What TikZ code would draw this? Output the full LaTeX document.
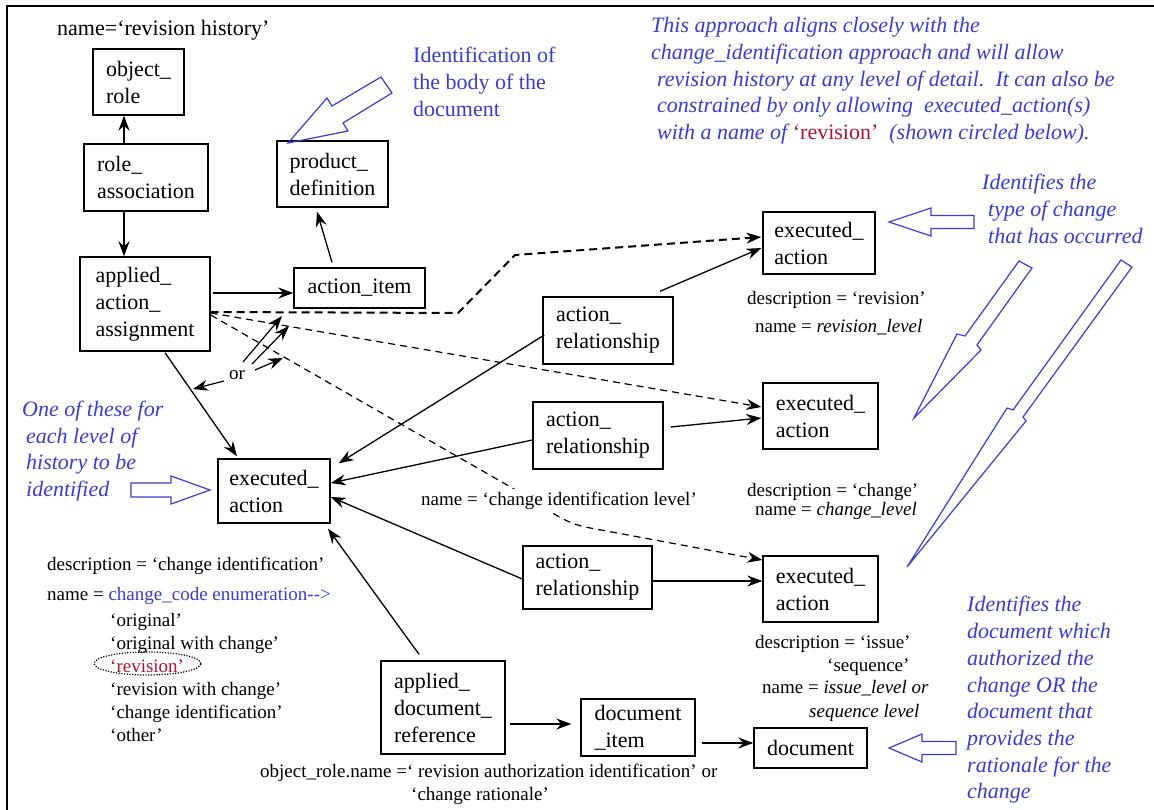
\documentclass[tikz,border=0pt]{standalone}
\usepackage{fontspec}
\setmainfont{Liberation Serif}
\usetikzlibrary{arrows.meta}
\definecolor{noteblue}{RGB}{60,60,210}
\definecolor{revred}{RGB}{175,20,50}
\newcommand{\boxfont}{\fontsize{22}{27}\selectfont}
\newcommand{\notefont}{\fontsize{19}{23}\selectfont}
\newcommand{\bluefont}{\fontsize{22}{26.7}\selectfont}
\begin{document}
\begin{tikzpicture}[x=1pt,y=-1pt,
  ent/.style={draw, line width=1.4pt, inner sep=0pt, align=left, font=\boxfont},
  link/.style={line width=1.3pt, -{Stealth[length=15pt,width=11pt,inset=5pt]}},
  dlink/.style={link, line width=1.2pt, dash pattern=on 7pt off 5pt},
  note/.style={font=\notefont, inner sep=0pt, text height=14pt, text depth=3pt},
  notelist/.style={font=\notefont, inner sep=0pt, align=left},
  bluenote/.style={font=\bluefont, text=noteblue, inner sep=0pt, align=left},
  hollow/.style={draw=noteblue, line width=1.2pt, line join=miter},
]
\useasboundingbox (0,0) rectangle (1154,810);
\fill[white] (0,0) rectangle (1154,810);

% frame
\draw[line width=2.5pt] (7,810) -- (7,6) -- (1154,6);

% entities
\node[ent, minimum width=91pt,  minimum height=66pt] (objrole)    at (138.5,82)   {object\_\\role};
\node[ent, minimum width=124pt, minimum height=67pt] (roleassoc)  at (146,177.5)  {role\_\\association};
\node[ent, minimum width=130pt, minimum height=94pt] (aaa)        at (145,304)    {applied\_\\action\_\\assignment};
\node[ent, minimum width=111pt, minimum height=66pt] (proddef)    at (332.5,174)  {product\_\\definition};
\node[ent, minimum width=131pt, minimum height=40pt, align=center] (actionitem) at (359.5,288) {action\_item};
\node[ent, minimum width=112pt, minimum height=62pt] (ea1)        at (819,243)    {executed\_\\action};
\node[ent, minimum width=130pt, minimum height=67pt] (ar1)        at (608,330.5)  {action\_\\relationship};
\node[ent, minimum width=115pt, minimum height=66pt] (ea2)        at (820.5,416)  {executed\_\\action};
\node[ent, minimum width=130pt, minimum height=67pt] (ar2)        at (598,435.5)  {action\_\\relationship};
\node[ent, minimum width=112pt, minimum height=64pt] (eam)        at (274,491)    {executed\_\\action};
\node[ent, minimum width=129pt, minimum height=63pt] (ar3)        at (587.5,577.5){action\_\\relationship};
\node[ent, minimum width=115pt, minimum height=66pt] (ea3)        at (820.5,589)  {executed\_\\action};
\node[ent, minimum width=124pt, minimum height=93pt] (adr)        at (443,707.5)  {applied\_\\document\_\\reference};
\node[ent, minimum width=114pt, minimum height=57pt] (docitem)    at (638,727.5)  {document\\\_item};
\node[ent, minimum width=113pt, minimum height=40pt, align=center] (document) at (810.5,748) {document};

% solid relationships
\draw[link] ([shift={(-22,0)}]roleassoc.north) -- ([shift={(-14.5,0)}]objrole.south);
\draw[link] ([shift={(-22,0)}]roleassoc.south) -- ([shift={(-21,0)}]aaa.north);
\draw[link] ([shift={(2,-11)}]aaa.east) -- ([shift={(0,5)}]actionitem.west);
\draw[link] ([shift={(-27.5,-5)}]actionitem.north) -- ([shift={(-15.5,4)}]proddef.south);
\draw[link] ([shift={(20,1)}]aaa.south) -- ([shift={(-37,-2)}]eam.north);
\draw[link] ([shift={(52,-5)}]ar1.north) -- ([shift={(-1,5)}]ea1.west);
\draw[link] ([shift={(2,4.5)}]ar1.west) -- ([shift={(8,5)}]eam.north east);
\draw[link] ([shift={(7,-8.5)}]ar2.east) -- ([shift={(-1,2)}]ea2.west);
\draw[link] ([shift={(0,4.5)}]ar2.west) -- ([shift={(0,-8)}]eam.east);
\draw[link] ([shift={(0,1.5)}]ar3.west) -- ([shift={(0,6)}]eam.east);
\draw[link] ([shift={(0,3.5)}]ar3.east) -- ([shift={(0,-8)}]ea3.west);
\draw[link] ([shift={(-24,-6)}]adr.north) -- ([shift={(54,5)}]eam.south);
\draw[link] ([shift={(4,16.5)}]adr.east) -- ([shift={(-9,-3.5)}]docitem.west);
\draw[link] ([shift={(6,15.5)}]docitem.east) -- ([shift={(0,-5)}]document.west);

% dashed assignments to the executed actions
\draw[dlink, line width=2pt, dash pattern=on 8pt off 5pt]
  ([shift={(0,8)}]aaa.east) -- (458,313) -- (515,255) -- ([shift={(-1,-6)}]ea1.west);
\draw[dlink] ([shift={(0,9)}]aaa.east) -- ([shift={(-1,-9)}]ea2.west);
\draw[dlink] ([shift={(0,11)}]aaa.east) -- (528,497)
  .. controls (548,509) and (560,521) .. (585,527) -- ([shift={(0,-29)}]ea3.west);

\node[note, fill=white, inner sep=3pt] (cilevel) at (559,500) {name = ‘change identification level’};

% "or" selector
\node[font=\notefont, inner sep=1pt] (orlabel) at (237,375) {or};
\coordinate (ortipa) at (282,316);
\coordinate (ortipb) at (289,326);
\coordinate (ortipc) at (283,358);
\coordinate (ortipd) at (193,389);
\draw[link, line width=1.2pt] ([shift={(6,-13)}]orlabel.center) -- (ortipa);
\draw[link, line width=1.2pt] ([shift={(15,-11)}]orlabel.center) -- (ortipb);
\draw[link, line width=1.2pt] ([shift={(18,-5)}]orlabel.center) -- (ortipc);
\draw[link, line width=1.2pt] ([shift={(-13,6)}]orlabel.center) -- (ortipd);

% attribute annotations
\node[anchor=west, font=\boxfont, inner sep=0pt] (rolename) at (57,30) {name=‘revision history’};
\node[note, anchor=west] (ea1desc) at (747,299) {description = ‘revision’};
\node[note, anchor=west] (ea1name) at (755,327) {name = \textit{revision\_level}};
\node[note, anchor=west] (ea2desc) at (747,491) {description = ‘change’};
\node[note, anchor=west] (ea2name) at (755,510) {name = \textit{change\_level}};
\node[note, anchor=west] (ea3desc) at (755,643) {description = ‘issue’};
\node[note, anchor=west] (ea3seq)  at (827,666) {‘sequence’};
\node[note, anchor=west] (ea3name) at (762,688) {name = \textit{issue\_level or}};
\node[note, anchor=west] (ea3seql) at (809,712) {\textit{sequence level}};
\node[note, anchor=west] (eamdesc) at (47,565) {description = ‘change identification’};
\node[note, anchor=west] (eamname) at (47,595) {name = \textcolor{noteblue}{change\_code enumeration{-}{-}>}};
\node[notelist, anchor=west] (codelist) at (110,677) {‘original’\\‘original with change’\\\textcolor{revred}{‘revision’}\\‘revision with change’\\‘change identification’\\‘other’};
\draw[line width=1.2pt, dash pattern=on 1.2pt off 1.5pt] (147.5,663.5) ellipse [x radius=53.5pt, y radius=11.5pt];
\node[note, anchor=west] (rolenote1) at (260,772) {object\_role.name =‘ revision authorization identification’ or};
\node[note, anchor=west] (rolenote2) at (411,795) {‘change rationale’};

% blue commentary
\node[bluenote, anchor=west] (bodynote) at (413,82) {Identification of\\the body of the\\document};
\node[bluenote, anchor=west, font=\bluefont\itshape] (approach) at (651,81)
  {This approach aligns closely with the\\
   change\_identification approach and will allow\\
   \hspace*{6pt}revision history at any level of detail.\ \ It can also be\\
   \hspace*{6pt}constrained by only allowing\ \ executed\_action(s)\\
   \hspace*{6pt}with a name of \textcolor{revred}{\upshape‘revision’}\ \ (shown circled below).};
\node[bluenote, anchor=west, font=\bluefont\itshape] (typenote) at (982,209)
  {Identifies the\\\hspace*{6pt}type of change\\\hspace*{6pt}that has occurred};
\node[bluenote, anchor=west, font=\bluefont\itshape] (levelnote) at (22,451)
  {One of these for\\\hspace*{4pt}each level of\\\hspace*{4pt}history to be\\\hspace*{4pt}identified};
\node[bluenote, anchor=west, font=\bluefont\itshape] (docnote) at (967,700)
  {Identifies the\\document which\\authorized the\\change OR the\\document that\\provides the\\rationale for the\\change};

% hollow pointer arrows
\draw[hollow] (288,143) -- (327,98) -- (332,106) -- (381,77) -- (392,93) -- (343,123) -- (348,131) -- cycle;
\draw[hollow] (210,490) -- (171,476) -- (171,483) -- (131,483) -- (131,497) -- (171,497) -- (171,504) -- cycle;
\draw[hollow] (889,222) -- (931,208) -- (931,215.5) -- (974,215.5) -- (974,228.5) -- (931,228.5) -- (931,236) -- cycle;
\draw[hollow] (889,748) -- (922,734) -- (922,741.5) -- (956,741.5) -- (956,754.5) -- (922,754.5) -- (922,762) -- cycle;
\draw[hollow] (1019,261) -- (965,336) -- (957,334) -- (914,418) -- (981,350) -- (977,345) -- (1032,268) -- cycle;
\draw[hollow] (1121,260) -- (1013,410) -- (1007,408) -- (907,567) -- (1026,421) -- (1023,417) -- (1132,267) -- cycle;
\end{tikzpicture}
\end{document}
